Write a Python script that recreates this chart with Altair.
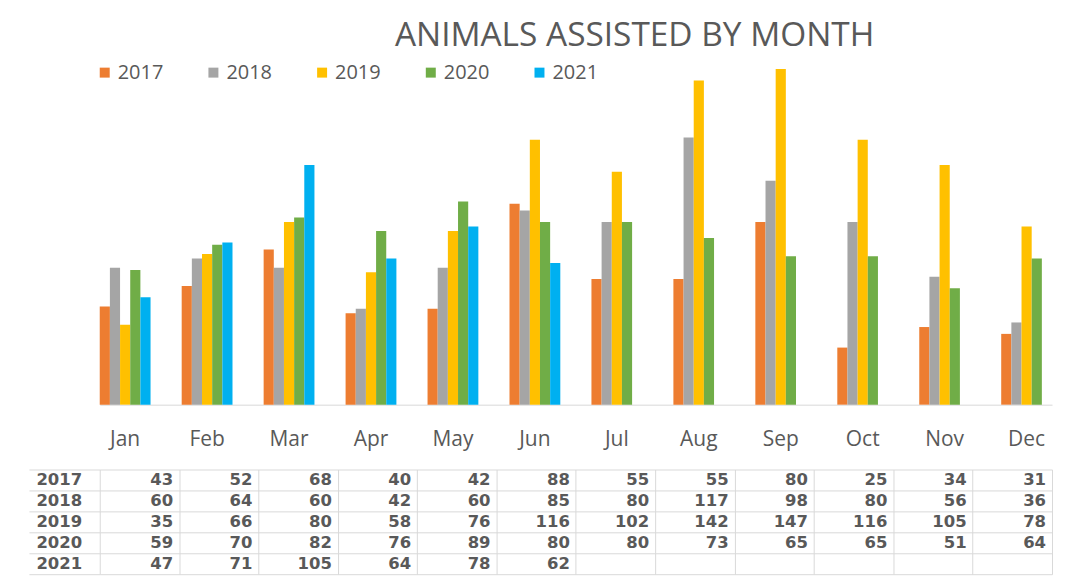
import altair as alt
import pandas as pd

months = ["Jan", "Feb", "Mar", "Apr", "May", "Jun", "Jul", "Aug", "Sep", "Oct", "Nov", "Dec"]
years = ["2017", "2018", "2019", "2020", "2021"]
v2017 = [43, 52, 68, 40, 42, 88, 55, 55, 80, 25, 34, 31]
v2018 = [60, 64, 60, 42, 60, 85, 80, 117, 98, 80, 56, 36]
v2019 = [35, 66, 80, 58, 76, 116, 102, 142, 147, 116, 105, 78]
v2020 = [59, 70, 82, 76, 89, 80, 80, 73, 65, 65, 51, 64]
v2021 = [47, 71, 105, 64, 78, 62]
colors = ["#ED7D31", "#A5A5A5", "#FFC000", "#70AD47", "#00B0F0"]

rows = []
for yr, vals in zip(years, [v2017, v2018, v2019, v2020, v2021]):
    for m, v in zip(months, vals):
        rows.append({"Month": m, "Year": yr, "Value": v})
df = pd.DataFrame(rows)

GRAY = "#595959"
LINE = "#d9d9d9"

bars = alt.Chart(df).mark_bar().encode(
    x=alt.X("Month:N", sort=months,
            scale=alt.Scale(paddingInner=0.38, paddingOuter=0),
            axis=alt.Axis(title=None, labelAngle=0, ticks=False, domainColor=LINE,
                          labelFont="Open Sans", labelFontSize=21, labelColor=GRAY,
                          labelPadding=24)),
    xOffset=alt.XOffset("Year:N", sort=years, scale=alt.Scale(paddingInner=0, paddingOuter=0)),
    y=alt.Y("Value:Q", scale=alt.Scale(domain=[0, 155], nice=False), axis=None),
    color=alt.Color("Year:N", sort=years, scale=alt.Scale(domain=years, range=colors),
                    legend=alt.Legend(title=None, orient="none", legendX=-5, legendY=12,
                                      direction="horizontal", columns=5, symbolType="square",
                                      symbolSize=100, symbolStrokeWidth=0,
                                      labelFont="Open Sans", labelFontSize=20, labelColor=GRAY,
                                      columnPadding=40, labelOffset=3, padding=0)),
).properties(
    width=955, height=355,
    title=alt.TitleParams("ANIMALS ASSISTED BY MONTH", anchor="start", frame="group",
                          dx=296, offset=-29, baseline="alphabetic",
                          font="Open Sans", fontSize=33.5, fontWeight="normal", color=GRAY),
)

table = alt.Chart(df).mark_text(
    align="right", dx=-6, font="DejaVu Sans", fontWeight="bold", fontSize=16.5, color=GRAY
).encode(
    x=alt.X("Month:N", sort=months, bandPosition=1,
            scale=alt.Scale(paddingInner=0, paddingOuter=0),
            axis=alt.Axis(title=None, labels=False, ticks=False, domain=False, grid=True,
                          tickBand="extent", gridColor=LINE)),
    y=alt.Y("Year:N", sort=years, scale=alt.Scale(paddingInner=0, paddingOuter=0),
            axis=alt.Axis(title=None, labelAlign="left", labelPadding=-7, ticks=True,
                          tickSize=71, tickColor=LINE, tickBand="extent", grid=True,
                          gridColor=LINE, domain=False, labelFont="DejaVu Sans",
                          labelFontWeight="bold", labelFontSize=16.5, labelColor=GRAY)),
    text="Value:Q",
).properties(width=955, height=105)

chart = alt.vconcat(bars, table, spacing=12).resolve_scale(x="independent").properties(
    padding={"left": 20, "top": 10, "right": 5, "bottom": 0}
).configure_view(stroke=None)

chart.save("out.html", embed_options={"renderer": "svg", "actions": False})
